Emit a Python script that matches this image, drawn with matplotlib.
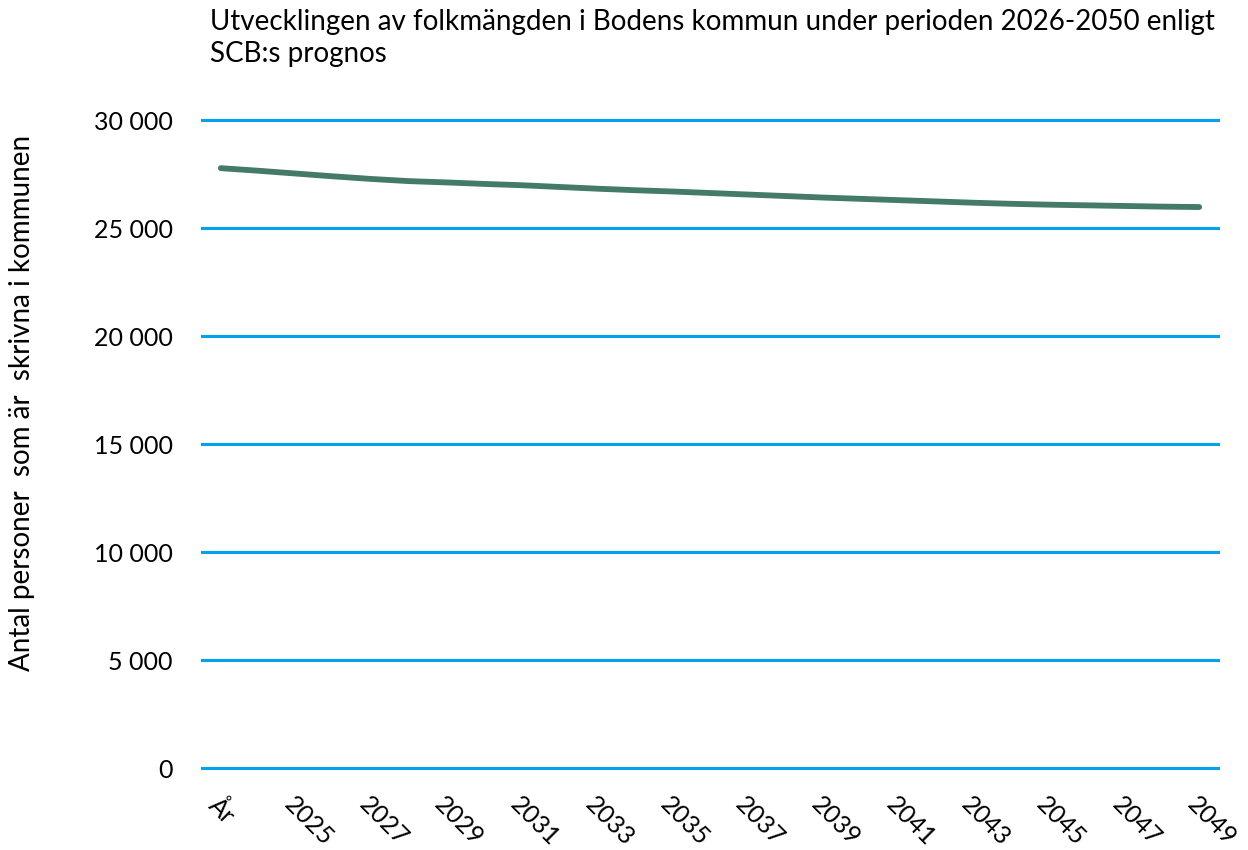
import numpy as np
import matplotlib.pyplot as plt
from matplotlib.ticker import FuncFormatter

# Data
categories = ['År'] + [str(y) for y in range(2024, 2050)]
population = [27770, 27650, 27520, 27390, 27270, 27170, 27110, 27040, 26980,
              26900, 26820, 26750, 26690, 26620, 26550, 26480, 26410, 26350,
              26290, 26230, 26170, 26120, 26080, 26050, 26020, 25990, 25970]
yticks = [0, 5000, 10000, 15000, 20000, 25000, 30000]

title = 'Utvecklingen av folkmängden i Bodens kommun under perioden 2026-2050 enligt\nSCB:s prognos'
ylabel = 'Antal personer  som är  skrivna i kommunen'

plt.rcParams['font.family'] = ['Lato', 'DejaVu Sans']

fig = plt.figure(figsize=(12.48, 8.5), dpi=100)
ax = fig.add_axes([202 / 1248, 1 - 768 / 850, (1218 - 202) / 1248, (768 - 120) / 850])

x = np.arange(len(categories))
ax.plot(x, population, color='#437B67', linewidth=4.2, solid_capstyle='round', zorder=3)

ax.set_xlim(-0.5, len(categories) - 0.5)
ax.set_ylim(0, 30000)
ax.set_yticks(yticks)
ax.yaxis.set_major_formatter(FuncFormatter(lambda v, p: f'{int(v):,}'.replace(',', ' ')))
ax.grid(axis='y', color='#00A2EC', linewidth=2.2, zorder=1)
ax.set_axisbelow(True)
for gl in ax.get_ygridlines():
    gl.set_clip_on(False)

shown = x[::2]
ax.set_xticks(shown)
ax.set_xticklabels([categories[i] for i in shown], rotation=-45, ha='left', va='top',
                   rotation_mode='anchor')

for s in ax.spines.values():
    s.set_visible(False)
ax.tick_params(axis='both', length=0, labelsize=18, colors='black')
ax.tick_params(axis='y', pad=21)
ax.tick_params(axis='x', pad=18)

fig.text(210 / 1248, 1 - 9 / 850, title, fontsize=20, ha='left', va='top', linespacing=1.3)
fig.text(22 / 1248, 1 - 403 / 850, ylabel, fontsize=20, rotation=90, ha='center', va='center')

fig.savefig('out.png', dpi=100)
